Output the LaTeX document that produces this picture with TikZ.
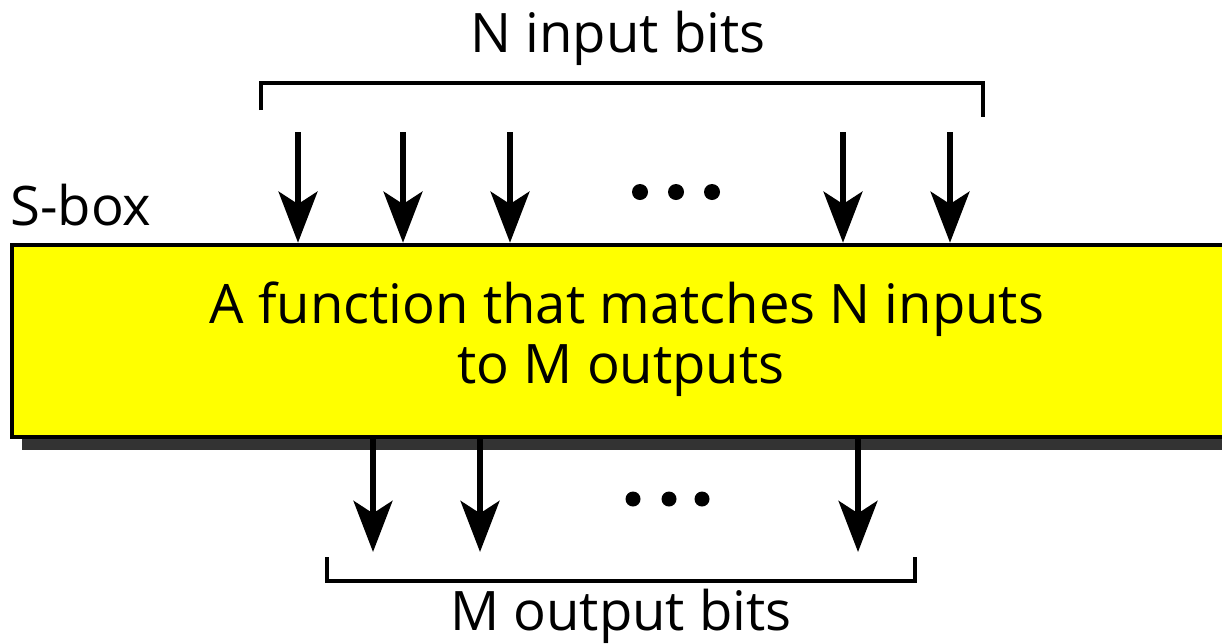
\documentclass[tikz,border=0pt]{standalone}
\usepackage{fontspec}
\setmainfont{Open Sans}
\usetikzlibrary{arrows.meta,shadows}

\definecolor{sboxyellow}{RGB}{255,255,0}
\tikzset{
  bitarrow/.style={line width=3.6pt,-{Stealth[length=29pt,width=22pt,inset=7pt]}},
  bracketline/.style={line width=2pt},
  bigtext/.style={font=\fontsize{31}{36}\selectfont,inner sep=0pt},
}

\begin{document}
\begin{tikzpicture}[x=0.02cm,y=-0.02cm]
        \useasboundingbox (0,0) rectangle (1222,643);

        % Draw the S-box
        \node[draw,line width=2.6pt,fill=sboxyellow,minimum width=24.6cm,minimum height=3.84cm,
              drop shadow={shadow xshift=0.2cm,shadow yshift=-0.26cm,fill=black!80,opacity=1}]
              (sbox) at (627,341) {};
        \node[bigtext,anchor=base] (fn1) at (627,323) {A function that matches N inputs};
        \node[bigtext,anchor=base] (fn2) at (621,383) {to M outputs};
        \node[bigtext,anchor=base west] (sname) at (10,225) {S-box};

        % Input bits
        \coordinate (inL) at (261,110);
        \coordinate (inT) at (620,83);
        \coordinate (inR) at (983,117);
        \draw[bracketline] (inL) |- (inT) -| (inR);
        \node[bigtext,anchor=base] (nin) at (618,52) {N input bits};
        \foreach \x in {298,403,510,843,950} {
          \coordinate (in\x) at (\x,132);
          \draw[bitarrow] (in\x) -- (in\x |- sbox.north);
        }
        \foreach \x in {640,676,712} \fill (\x,192) circle (8);

        % Output bits
        \foreach \x in {373,480,858} {
          \coordinate (out\x) at (\x,552);
          \draw[bitarrow] (out\x |- sbox.south) -- (out\x);
        }
        \foreach \x in {633,669,702} \fill (\x,499) circle (7.5);
        \coordinate (outL) at (327,557);
        \coordinate (outB) at (620,581);
        \coordinate (outR) at (915,557);
        \draw[bracketline] (outL) |- (outB) -| (outR);
        \node[bigtext,anchor=base] (mout) at (621,630) {M output bits};
\end{tikzpicture}
\end{document}
